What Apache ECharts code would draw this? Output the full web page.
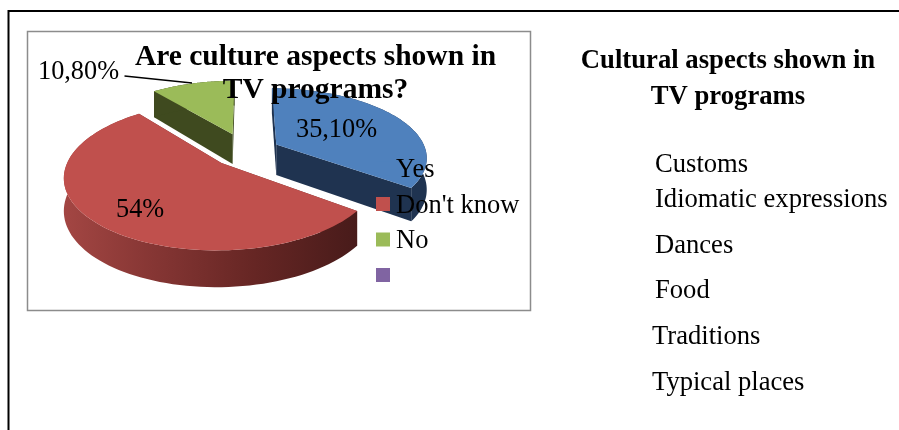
<!DOCTYPE html>
<html><head><meta charset="utf-8">
<script src="https://cdn.jsdelivr.net/npm/echarts@6/dist/echarts.min.js"></script>
<style>html,body{margin:0;padding:0;background:#fff}#c{width:899px;height:430px}</style>
</head><body><div id="c"></div>
<script>
const categories = ['Yes', "Don't know", 'No', ' '];
const values = [35.1, 54, 10.8, 0];
const valueLabels = ['35,10%', '54%', '10,80%'];
const colors = ['#4f81bd', '#c0504d', '#9bbb59', '#8064a2'];
const wallColors = ['#1f3350', '#6d2826', '#3f4a1f', '#8064a2'];
const chartTitle = 'Are culture aspects shown in\nTV programs?';
const panelTitle = ['Cultural aspects shown in', 'TV programs'];
const panelItems = ['Customs', 'Idiomatic expressions', 'Dances', 'Food', 'Traditions', 'Typical places'];

const FONT = '"Liberation Serif","Times New Roman",serif';
const view = {cx: 246, cy: 151.5, R: 150, k: 68, p: 0.17, depth: 31, depthP: 0.16, steps: 90};
const explode = [0.23, 0.23, 0.28, 0];
const labelPos = [[296, 137], [116, 217], [38, 79]];
const panelItemPos = [[655, 173], [655, 208], [655, 254], [655, 299], [652, 345], [652, 391]];

const total = values.reduce((a, b) => a + b, 0);
function project(X, Y, down) {
  const s = 1 / (1 - view.p * Y);
  return [view.cx + view.R * X * s, view.cy + view.k * Y * s + (down ? view.depth * (1 + view.depthP * Y) : 0)];
}
function sliceAngles(i) {
  let acc = 0;
  for (let j = 0; j < i; j++) acc += values[j];
  return [acc / total * 2 * Math.PI, (acc + values[i]) / total * 2 * Math.PI];
}
function makeRender(i) {
  return function (params, api) {
    const v = api.value(0);
    if (!v) return null;
    const [a0, a1] = sliceAngles(i);
    const mid = (a0 + a1) / 2;
    const ox = Math.sin(mid) * explode[i], oy = -Math.cos(mid) * explode[i];
    const arcUnit = [];
    for (let n = 0; n <= view.steps; n++) {
      const t = a0 + (a1 - a0) * n / view.steps;
      arcUnit.push([ox + Math.sin(t), oy - Math.cos(t)]);
    }
    const topArc = arcUnit.map(u => project(u[0], u[1], false));
    const lowArc = arcUnit.map(u => project(u[0], u[1], true));
    const apexT = project(ox, oy, false), apexB = project(ox, oy, true);
    const wall = i === 1
      ? new echarts.graphic.LinearGradient(0, 0, 1, 0, [
          {offset: 0, color: '#a34643'}, {offset: 0.3, color: '#863634'},
          {offset: 0.65, color: '#662624'}, {offset: 1, color: '#481b1a'}])
      : wallColors[i];
    const children = [];
    children.push({type: 'polygon', shape: {points: [apexT, topArc[0], lowArc[0], apexB]}, style: {fill: wallColors[i]}});
    children.push({type: 'polygon', shape: {points: [apexT, topArc[view.steps], lowArc[view.steps], apexB]}, style: {fill: wallColors[i]}});
    children.push({type: 'polygon', shape: {points: topArc.concat(lowArc.slice().reverse())}, style: {fill: wall}});
    children.push({type: 'polygon', shape: {points: [apexT].concat(topArc)}, style: {fill: colors[i]}});
    return {type: 'group', children};
  };
}
const textStyle = (t, x, y, size, bold, align) => ({
  type: 'text', z: 20, x, y,
  style: {text: t, fill: '#000', font: (bold ? 'bold ' : '') + size + 'px ' + FONT, textAlign: align || 'left', textVerticalAlign: 'bottom'}
});
const graphics = [
  {type: 'line', z: 0, shape: {x1: 8.5, y1: 11, x2: 899, y2: 11}, style: {stroke: '#000', lineWidth: 2}},
  {type: 'line', z: 0, shape: {x1: 8.5, y1: 10, x2: 8.5, y2: 430}, style: {stroke: '#000', lineWidth: 2}},
  {type: 'rect', z: 0, shape: {x: 27.5, y: 31.5, width: 503, height: 279}, style: {fill: '#fff', stroke: '#8c8c8c', lineWidth: 1.5}},
  {type: 'line', z: 20, shape: {x1: 124.5, y1: 76, x2: 192, y2: 83}, style: {stroke: '#000', lineWidth: 1.5}},
];
valueLabels.forEach((t, i) => graphics.push(textStyle(t, labelPos[i][0], labelPos[i][1] + 6, 26.3, false)));
graphics.push(textStyle(panelTitle[0], 728, 75, 26.7, true, 'center'));
graphics.push(textStyle(panelTitle[1], 728, 111, 26.7, true, 'center'));
panelItems.forEach((t, i) => graphics.push(textStyle(t, panelItemPos[i][0], panelItemPos[i][1] + 6, 26.6, false)));

const chart = echarts.init(document.getElementById('c'), null, {renderer: 'canvas'});
chart.setOption({
  animation: false,
  backgroundColor: '#fff',
  title: {text: chartTitle, left: 315.5, top: 40.5, textAlign: 'center', padding: 0, z: 15,
    textStyle: {fontFamily: FONT, fontWeight: 'bold', fontSize: 29.5, lineHeight: 33, color: '#000'}},
  legend: {data: categories, orient: 'vertical', left: 376, top: 153, padding: 0, itemWidth: 14, itemHeight: 14, itemGap: 4.5, icon: 'rect', z: 12,
    selectedMode: false,
    formatter: name => '{t|' + name + '}',
    textStyle: {rich: {t: {fontFamily: FONT, fontSize: 26.5, lineHeight: 26, color: '#000', padding: [4, 0, 0, 1]}}}},
  graphic: graphics,
  series: [2, 0, 1, 3].map(i => ({
    type: 'custom', name: categories[i], coordinateSystem: 'none', silent: true,
    itemStyle: {color: colors[i]}, data: [[values[i]]], renderItem: makeRender(i), z: 5
  }))
});
</script></body></html>
